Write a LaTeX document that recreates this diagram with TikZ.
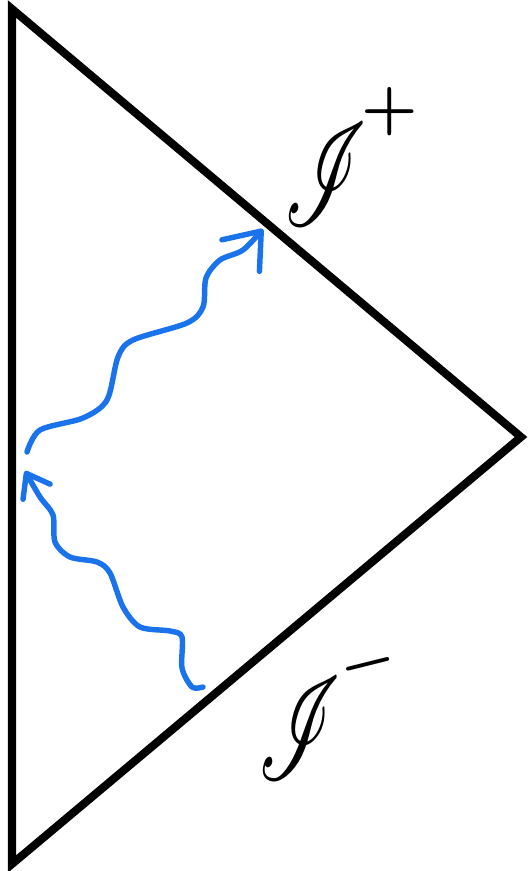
\documentclass[tikz,border=0pt]{standalone}
\usepackage{amsmath}
\usepackage{mathrsfs}
\usetikzlibrary{arrows.meta,positioning}
\definecolor{edgeblack}{RGB}{0,0,0}
\definecolor{photonblue}{RGB}{26,115,235}
\tikzset{
  bdry/.style={draw=edgeblack,line width=4.6pt,line join=miter},
  photon/.style={draw=photonblue,line width=3.1pt,line cap=round,line join=round},
  photonarr/.style={photon,-{Straight Barb[length=0.64cm,width=0.98cm,line width=3.1pt,round]}},
  photonarrsmall/.style={photon,-{Straight Barb[length=0.42cm,width=0.62cm,line width=3.1pt,round]}},
  scri/.style={text=edgeblack,inner sep=0pt,xscale=4.7,yscale=8.3},
  scrisign/.style={text=edgeblack,inner sep=0pt,scale=3.6},
}
\begin{document}
\begin{tikzpicture}[x=0.02cm,y=-0.02cm]
  \useasboundingbox (0,0) rectangle (528,871);
  \coordinate (top) at (12,9);
  \coordinate (tip) at (521,437);
  \coordinate (bot) at (12,864);

  \draw[bdry] (top) -- (tip) -- (bot) -- cycle;

  \coordinate (emit)   at (27,452);
  \coordinate (absorb) at (263,229);
  \coordinate (src)    at (203,687);
  \coordinate (hit)    at (25,471);

  \draw[photonarr] plot[smooth] coordinates {(emit) (40,430) (83,418) (107,400) (118,357)
    (133,340) (187,323) (203,307) (206,278) (220,260) (243,250) (absorb)};
  \draw[photonarrsmall] plot[smooth] coordinates {(src) (192,687) (182,668) (182,637)
    (170,631) (140,627) (123,607) (110,573) (97,562) (70,557) (55,542) (53,515)
    (40,497) (hit)};

  \node[scri] (scriplus)  at (326,174) {$\mathscr{I}$};
  \node[scrisign] (plus)  at (390,112) {$\boldsymbol{+}$};
  \node[scri] (scriminus) at (300,728) {$\mathscr{I}$};
  \node[scrisign,rotate=14] (minus) at (368,664) {$\boldsymbol{-}$};
\end{tikzpicture}
\end{document}
